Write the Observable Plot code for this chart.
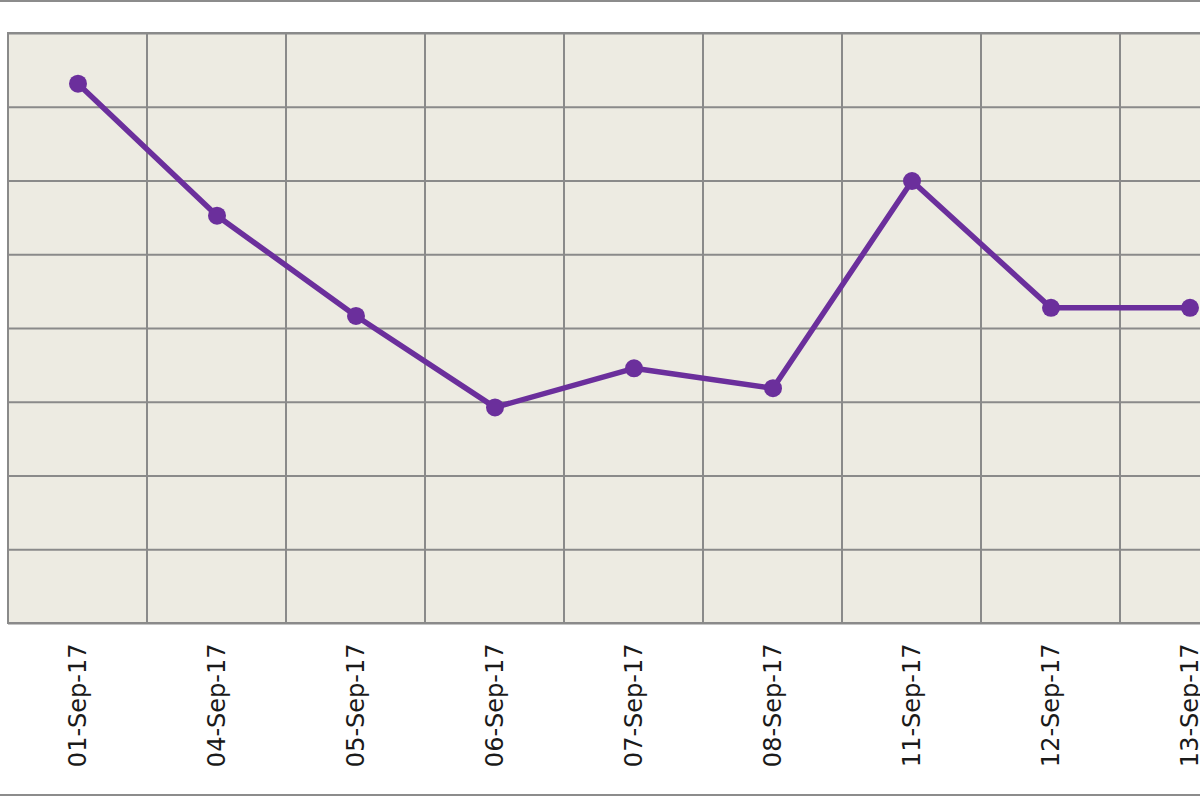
<!DOCTYPE html>
<html>
<head>
<meta charset="utf-8">
<script src="https://cdn.jsdelivr.net/npm/d3@7"></script>
<script src="https://cdn.jsdelivr.net/npm/@observablehq/plot@0.6"></script>
<style>
  html, body { margin: 0; padding: 0; background: #ffffff; overflow: hidden; }
  #wrap { width: 1200px; height: 796px; overflow: hidden; border-top: 2px solid #8c8c8c; border-bottom: 2px solid #8c8c8c; box-sizing: border-box; }
  #wrap svg { max-width: none !important; }
</style>
</head>
<body>
<div id="wrap"></div>
<script>
const dates = ["01-Sep-17", "04-Sep-17", "05-Sep-17", "06-Sep-17", "07-Sep-17", "08-Sep-17", "11-Sep-17", "12-Sep-17", "13-Sep-17"];
const values = [7.32, 5.53, 4.17, 2.93, 3.46, 3.19, 6.0, 4.28, 4.28];
const yTicks = [0, 1, 2, 3, 4, 5, 6, 7, 8];

const data = dates.map((d, i) => ({date: d, value: values[i]}));

const chart = Plot.plot({
  width: 1260,
  height: 792,
  marginTop: 31,
  marginBottom: 171,
  marginLeft: 8,
  marginRight: 1,
  style: {fontFamily: "DejaVu Sans", fontSize: "24px", color: "#1a1a1a", background: "transparent", overflow: "visible", maxWidth: "none"},
  x: {type: "band", domain: dates, padding: 0, label: null},
  y: {domain: [0, 8], axis: null},
  marks: [
    Plot.frame({fill: "#edebe2", stroke: null}),
    Plot.ruleY(yTicks, {stroke: "#8a8a8a", strokeWidth: 2, strokeOpacity: 1}),
    Plot.cell(dates, {x: d => d, fill: "none", stroke: "#8a8a8a", strokeWidth: 2}),
    Plot.axisX({tickSize: 0, tickPadding: 20, tickRotate: -90, fontSize: 24, label: null}),
    Plot.line(data, {x: "date", y: "value", stroke: "#6b2f9c", strokeWidth: 5.5}),
    Plot.dot(data, {x: "date", y: "value", fill: "#6b2f9c", r: 9})
  ]
});
document.getElementById("wrap").appendChild(chart);
</script>
</body>
</html>
